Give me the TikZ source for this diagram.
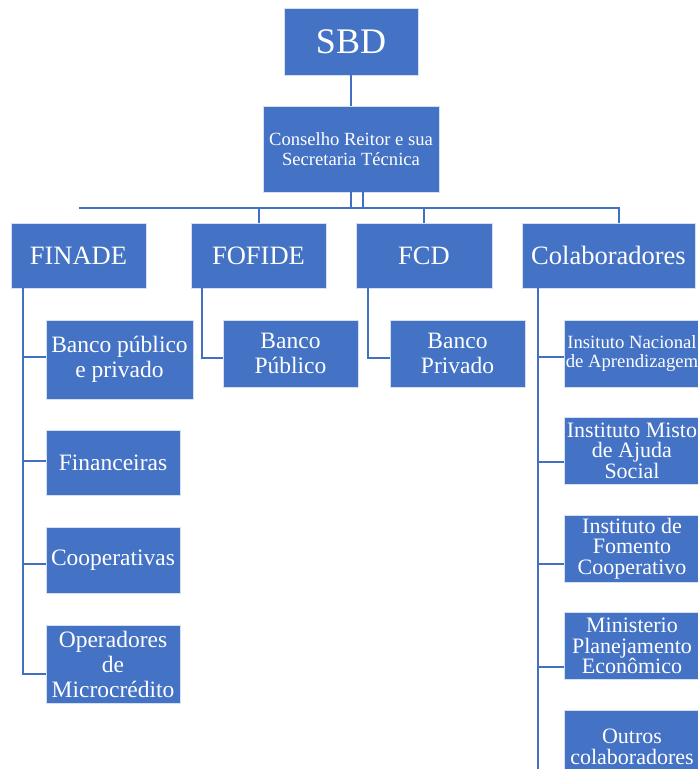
\documentclass[tikz,border=0pt]{standalone}
\usepackage{fontspec}
\setmainfont{Liberation Serif}
\definecolor{boxblue}{HTML}{4472C4}
\definecolor{lineblue}{HTML}{4270C2}
\definecolor{boxedge}{HTML}{D6E0F3}
\tikzset{
  box/.style={draw=boxedge, line width=0.6pt, fill=boxblue, text=white, inner sep=0pt, align=center},
  conn/.style={draw=lineblue, line width=2pt, line join=miter},
  lvlone/.style={box, font=\fontsize{26.5}{30}\selectfont, minimum height=65pt},
  childA/.style={box, font=\fontsize{23.5}{25}\selectfont, minimum width=134pt},
  childB/.style={box, font=\fontsize{22}{20.5}\selectfont, minimum width=136pt, minimum height=67pt},
}
\begin{document}
\begin{tikzpicture}[x=1pt,y=-1pt]
\useasboundingbox (0,0) rectangle (698,769);
% top
\node[box, minimum width=134pt, minimum height=67pt, font=\fontsize{36}{40}\selectfont] (sbd) at (351,41.5) {SBD};
\node[box, minimum width=176pt, minimum height=86pt, font=\fontsize{18.6}{20}\selectfont] (cons) at (351,149) {Conselho Reitor e sua\\Secretaria Técnica};
% level one
\node[lvlone, minimum width=135pt] (finade) at (78.5,255.5) {FINADE};
\node[lvlone, minimum width=135pt] (fofide) at (258.5,255.5) {FOFIDE};
\node[lvlone, minimum width=136pt] (fcd) at (424,255.5) {FCD};
\node[lvlone, minimum width=173pt] (colab) at (608.5,255.5) {Colaboradores};
% FINADE children
\node[childA, minimum width=147pt, minimum height=79pt] (bpp) at (119.5,359.5) {Banco público\\e privado};
\node[childA, minimum height=65pt] (fin) at (113,462.5) {Financeiras};
\node[childA, minimum height=66pt] (coop) at (113,560) {Cooperativas};
\node[childA, minimum height=78pt] (op) at (113,664) {Operadores\\de\\Microcrédito};
% FOFIDE / FCD children
\node[childA, minimum width=135pt, minimum height=67pt] (bpub) at (290.5,353.5) {Banco\\Público};
\node[childA, minimum width=135pt, minimum height=67pt] (bpriv) at (457.5,353.5) {Banco\\Privado};
% Colaboradores children
\node[childB, font=\fontsize{18.7}{19}\selectfont] (ina) at (632,353.5) {Insituto Nacional\\de Aprendizagem};
\node[childB] (imas) at (632,450.5) {Instituto Misto\\de Ajuda\\Social};
\node[childB] (ifc) at (632,548.5) {Instituto de\\Fomento\\Cooperativo};
\node[childB] (mpe) at (632,646) {Ministerio\\Planejamento\\Econômico};
\node[childB, font=\fontsize{22}{21}\selectfont, minimum height=74pt] (outros) at (632,747) {Outros\\colaboradores};
% connectors top
\draw[conn] (sbd.south) -- (cons.north);
\coordinate (busL) at (79,208);
\coordinate (busR) at (619,208);
\draw[conn] (cons.south) -- (cons.south |- busL);
\draw[conn] ([xshift=12pt]cons.south) -- ([xshift=12pt]cons.south |- busL);
\draw[conn] (busL -| finade.north) -- (busL) -- (busR) -- (busR |- colab.north);
\draw[conn] (fofide.north) -- (fofide.north |- busL);
\draw[conn] (fcd.north) -- (fcd.north |- busL);
% FINADE trunk
\coordinate (f1) at (23,357);
\coordinate (f2) at (23,461);
\coordinate (f3) at (23,564);
\coordinate (f4) at (23,674);
\draw[conn] (finade.south -| f1) -- (f4) -- (f4 -| op.west);
\draw[conn] (f1) -- (f1 -| bpp.west);
\draw[conn] (f2) -- (f2 -| fin.west);
\draw[conn] (f3) -- (f3 -| coop.west);
% FOFIDE
\coordinate (p1) at (202,358);
\draw[conn] (fofide.south -| p1) -- (p1) -- (p1 -| bpub.west);
% FCD
\coordinate (q1) at (368,358);
\draw[conn] (fcd.south -| q1) -- (q1) -- (q1 -| bpriv.west);
% Colaboradores trunk
\coordinate (c1) at (538,357);
\coordinate (c2) at (538,462);
\coordinate (c3) at (538,564);
\coordinate (c4) at (538,667);
\coordinate (cend) at (538,769);
\draw[conn] (colab.south -| c1) -- (cend);
\draw[conn] (c1) -- (c1 -| ina.west);
\draw[conn] (c2) -- (c2 -| imas.west);
\draw[conn] (c3) -- (c3 -| ifc.west);
\draw[conn] (c4) -- (c4 -| mpe.west);
\end{tikzpicture}
\end{document}
